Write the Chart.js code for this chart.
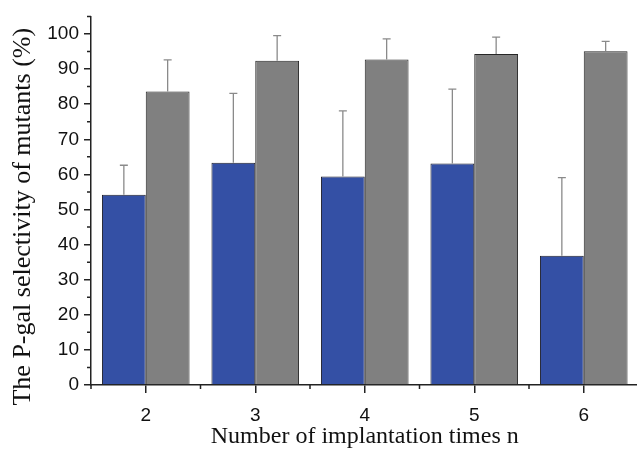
<!DOCTYPE html>
<html>
<head>
<meta charset="utf-8">
<script src="https://cdn.jsdelivr.net/npm/chart.js@4"></script>
<style>
  html, body { margin: 0; padding: 0; background: #fff; overflow: hidden; }
</style>
</head>
<body>
<canvas id="chart" width="640" height="451"></canvas>
<script>
// data
const categories = ['2', '3', '4', '5', '6'];
const blueValues = [54.2, 63.3, 59.4, 63.1, 36.8];
const blueErrors = [8.4, 19.8, 18.7, 21.2, 22.3];
const grayValues = [83.6, 92.4, 92.7, 94.3, 95.1];
const grayErrors = [9.0, 7.1, 5.9, 4.8, 2.8];
const yMajorTicks = [0, 10, 20, 30, 40, 50, 60, 70, 80, 90, 100];
const yMinorTicks = [5, 15, 25, 35, 45, 55, 65, 75, 85, 95, 105];

const axisColor = '#222';

// upper error bars, one per bar
const errorBars = {
  id: 'errorBars',
  afterDatasetsDraw(chart) {
    const { ctx, scales: { y } } = chart;
    const errs = [blueErrors, grayErrors];
    ctx.save();
    ctx.strokeStyle = '#8a8a8a';
    ctx.lineWidth = 1.3;
    chart.data.datasets.forEach((ds, di) => {
      chart.getDatasetMeta(di).data.forEach((bar, i) => {
        const top = y.getPixelForValue(ds.data[i] + errs[di][i]);
        ctx.beginPath();
        ctx.moveTo(bar.x, bar.y);
        ctx.lineTo(bar.x, top);
        ctx.moveTo(bar.x - 4, top);
        ctx.lineTo(bar.x + 4, top);
        ctx.stroke();
      });
    });
    ctx.restore();
  }
};

// short minor ticks + rotated y title
const extras = {
  id: 'extras',
  afterDraw(chart) {
    const { ctx, chartArea, scales: { x, y } } = chart;
    ctx.save();
    ctx.strokeStyle = axisColor;
    ctx.lineWidth = 1.5;
    ctx.beginPath();
    yMinorTicks.forEach(v => {
      const py = y.getPixelForValue(v);
      ctx.moveTo(y.right - 4, py);
      ctx.lineTo(y.right, py);
    });
    for (let i = 0; i <= categories.length; i++) {
      const px = x.getPixelForValue(i - 0.5);
      ctx.moveTo(px, x.top);
      ctx.lineTo(px, x.top + 4);
    }
    ctx.stroke();

    ctx.translate(23.5, (chartArea.top + chartArea.bottom) / 2 + 16);
    ctx.rotate(-Math.PI / 2);
    ctx.fillStyle = '#111';
    ctx.font = '26px "Liberation Serif"';
    ctx.textAlign = 'center';
    ctx.textBaseline = 'middle';
    ctx.fillText('The P-gal selectivity of mutants (%)', 0, 0);
    ctx.restore();
  }
};

new Chart(document.getElementById('chart'), {
  type: 'bar',
  data: {
    labels: categories,
    datasets: [
      {
        data: blueValues,
        backgroundColor: '#3450a5',
        borderColor: '#1f1f2a',
        borderWidth: 1,
        borderSkipped: 'start',
        categoryPercentage: 0.8,
        barPercentage: 1.0
      },
      {
        data: grayValues,
        backgroundColor: '#808080',
        borderColor: '#262626',
        borderWidth: 1,
        borderSkipped: 'start',
        categoryPercentage: 0.8,
        barPercentage: 1.0
      }
    ]
  },
  options: {
    responsive: false,
    animation: false,
    layout: { padding: { top: 12, right: 1.5, left: 0, bottom: 0 } },
    plugins: { legend: { display: false }, tooltip: { enabled: false } },
    scales: {
      x: {
        border: { display: true, color: axisColor, width: 1.5 },
        grid: { offset: false, drawOnChartArea: false, tickLength: 8, color: axisColor, lineWidth: 1.5 },
        ticks: { padding: 11, color: '#111', font: { family: 'Liberation Sans', size: 19 } },
        title: {
          display: true,
          text: 'Number of implantation times n',
          color: '#111',
          font: { family: 'Liberation Serif', size: 24 },
          padding: { top: 0, bottom: 0 }
        },
        afterFit: s => { s.height = 66; }
      },
      y: {
        min: 0,
        max: 105,
        border: { display: true, color: axisColor, width: 1.5 },
        grid: { drawOnChartArea: false, tickLength: 7, color: axisColor, lineWidth: 1.5 },
        afterBuildTicks: s => { s.ticks = yMajorTicks.map(v => ({ value: v })); },
        ticks: { autoSkip: false, padding: 5, color: '#111', font: { family: 'Liberation Sans', size: 19 } },
        afterFit: s => { s.width = 91; }
      }
    }
  },
  plugins: [errorBars, extras]
});
</script>
</body>
</html>
